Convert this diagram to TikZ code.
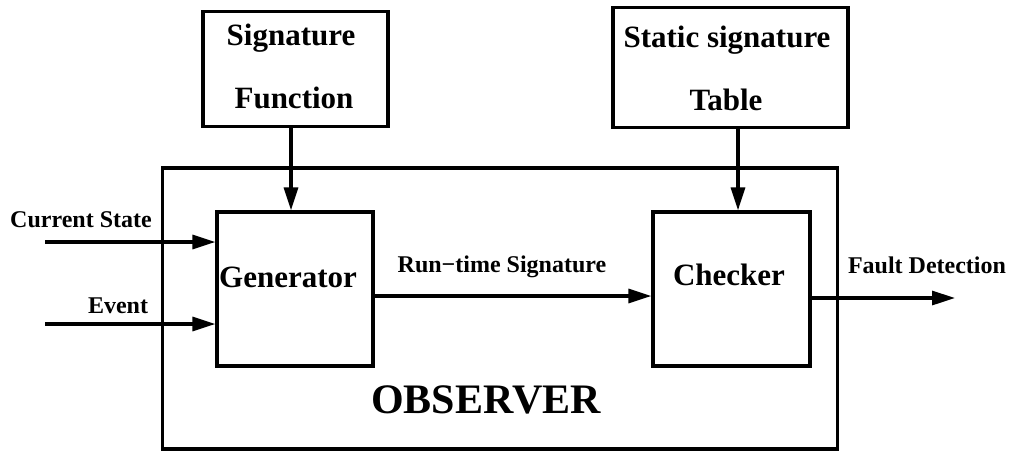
\documentclass[tikz,border=0pt]{standalone}
\usepackage{fontspec}
\setmainfont{Liberation Serif}
\usetikzlibrary{arrows.meta}
\tikzset{
  box/.style={draw, line width=3.2pt, inner sep=0pt, minimum width=#1},
  lbl/.style={anchor=base, inner sep=0pt, font=\bfseries\fontsize{24}{28}\selectfont},
  big/.style={anchor=base, inner sep=0pt, font=\bfseries\fontsize{31}{36}\selectfont},
  huge/.style={anchor=base, inner sep=0pt, font=\bfseries\fontsize{42}{48}\selectfont},
  arr/.style={line width=3.2pt, -{Triangle[length=23pt,width=14pt]}},
}
\begin{document}
\begin{tikzpicture}[x=1pt,y=-1pt]
\useasboundingbox (0,0) rectangle (1010,451);

% outer observer frame
\node[box=675pt, minimum height=281pt] (obs) at (500,308.5) {};
\node[huge] (obst) at (486,413) {OBSERVER};

% inner blocks
\node[box=156pt, minimum height=154pt] (gen) at (295,289) {};
\node[big] (gent) at (288,287) {Generator};
\node[box=157pt, minimum height=154pt] (chk) at (731.5,289) {};
\node[big] (chkt) at (729,285) {Checker};

% upper sources
\node[box=185pt, minimum height=115pt] (sig) at (295.5,69) {};
\node[big] (sigt1) at (291,45) {Signature};
\node[big] (sigt2) at (294,108) {Function};
\node[box=235pt, minimum height=120pt] (sst) at (730.5,67.5) {};
\node[big] (sstt1) at (727,47) {Static signature};
\node[big] (sstt2) at (726,110) {Table};

% inputs
\coordinate (csin) at (45,242);
\coordinate (evin) at (45,324);
\draw[arr] (csin) -- (csin -| gen.west);
\draw[arr] (evin) -- (evin -| gen.west);
\node[lbl] (cst) at (81,227) {Current State};
\node[lbl] (evt) at (118,313) {Event};

% feeds from above
\draw[arr] (sig.south -| 291,0) -- (gen.north -| 291,0);
\draw[arr] (sst.south -| 738,0) -- (chk.north -| 738,0);

% run-time signature
\coordinate (rt) at (373,296);
\draw[arr] (rt -| gen.east) -- (rt -| chk.west);
\node[lbl] (rtt) at (502,272) {Run{\char"2212}time Signature};

% fault detection output
\coordinate (fd) at (955,298);
\draw[arr] (fd -| chk.east) -- (fd);
\node[lbl] (fdt) at (927,273) {Fault Detection};
\end{tikzpicture}
\end{document}
